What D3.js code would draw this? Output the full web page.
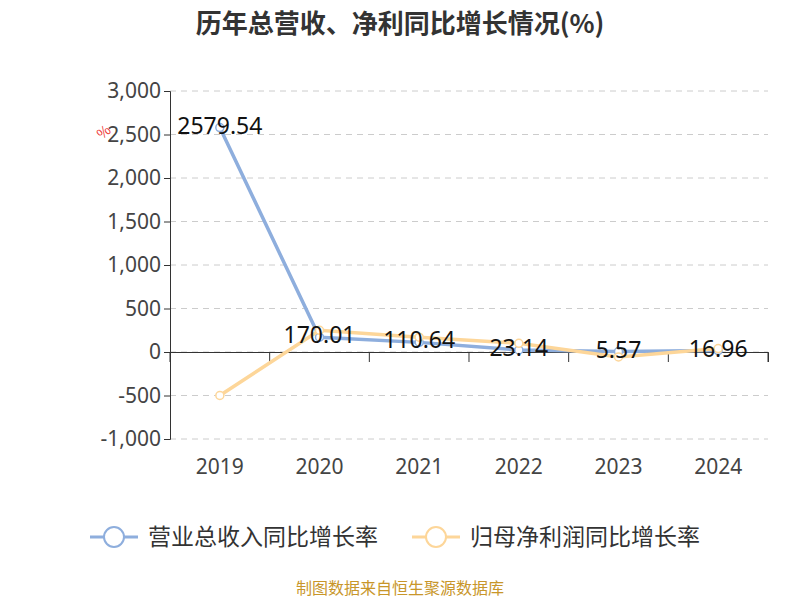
<!DOCTYPE html>
<html><head><meta charset="utf-8">
<script src="https://cdn.jsdelivr.net/npm/d3@7"></script>
<style>body{margin:0;background:#fff;font-family:"Noto Sans CJK SC","Noto Sans",sans-serif;}</style>
</head><body><div id="chart"></div>
<script>
var years = ["2019", "2020", "2021", "2022", "2023", "2024"];
var revenueGrowth = [2579.54, 170.01, 110.64, 23.14, 5.57, 16.96];
var profitGrowth = [-500, 250, 170, 100, -57, 40];
var yTicks = [-1000, -500, 0, 500, 1000, 1500, 2000, 2500, 3000];
var seriesNames = ["营业总收入同比增长率", "归母净利润同比增长率"];
var colors = ["#8eaedd", "#fdd699"];

var width = 800, height = 600;
var margin = { top: 91, right: 32, bottom: 161, left: 170 };

var svg = d3.select("#chart").append("svg")
    .attr("width", width).attr("height", height);

svg.append("text").attr("x", 400).attr("y", 33).attr("text-anchor", "middle")
    .attr("font-size", 26).attr("font-weight", "bold").attr("fill", "#333")
    .text("历年总营收、净利同比增长情况(%)");

var x = d3.scaleBand().domain(years).range([margin.left, width - margin.right]);
var y = d3.scaleLinear().domain([-1000, 3000]).range([height - margin.bottom, margin.top]);

// grid
svg.append("g").selectAll("line").data(yTicks).join("line")
    .attr("x1", margin.left).attr("x2", width - margin.right)
    .attr("y1", d => y(d)).attr("y2", d => y(d))
    .attr("stroke", "#ccc").attr("stroke-dasharray", "6,5");

// y axis
var yAxis = svg.append("g").attr("transform", "translate(" + margin.left + ",0)")
    .call(d3.axisLeft(y).tickValues(yTicks).tickSize(6).tickFormat(d => d3.format(",")(d).replace("−", "-")));
yAxis.select(".domain").attr("stroke", "#333");
yAxis.selectAll("line").attr("stroke", "#333");
yAxis.selectAll("text").attr("font-size", 21).attr("fill", "#444")
    .attr("font-family", "'Noto Sans',sans-serif");

// x axis at zero
var xAxis = svg.append("g").attr("transform", "translate(0," + y(0) + ")")
    .call(d3.axisBottom(x).tickSizeOuter(0).tickSize(10).tickFormat(""));
xAxis.select(".domain").attr("stroke", "#333");
xAxis.selectAll("line").attr("stroke", "#333").attr("x1", -x.bandwidth() / 2).attr("x2", -x.bandwidth() / 2);
svg.append("line").attr("x1", width - margin.right).attr("x2", width - margin.right)
    .attr("y1", y(0)).attr("y2", y(0) + 10).attr("stroke", "#333");
svg.append("g").selectAll("text").data(years).join("text")
    .attr("x", d => x(d) + x.bandwidth() / 2).attr("y", 474)
    .attr("text-anchor", "middle").attr("font-size", 21).attr("fill", "#444")
    .attr("font-family", "'Noto Sans',sans-serif").text(d => d);

var cx = d => x(d) + x.bandwidth() / 2;
var line = d3.line().x((d, i) => cx(years[i])).y(d => y(d));

[revenueGrowth, profitGrowth].forEach(function (s, k) {
    svg.append("path").datum(s).attr("d", line).attr("fill", "none")
        .attr("stroke", colors[k]).attr("stroke-width", 3.5);
    svg.append("g").selectAll("circle").data(s).join("circle")
        .attr("cx", (d, i) => cx(years[i])).attr("cy", d => y(d)).attr("r", 4)
        .attr("fill", "#fff").attr("stroke", colors[k]).attr("stroke-width", 1.5);
});

svg.append("g").selectAll("text").data(revenueGrowth).join("text")
    .attr("x", (d, i) => cx(years[i])).attr("y", d => y(d) + 6)
    .attr("text-anchor", "middle").attr("font-size", 23).attr("fill", "#111")
    .attr("font-family", "'Noto Sans',sans-serif").text(d => d.toFixed(2));

svg.append("text").attr("x", 102).attr("y", 140).attr("font-size", 14)
    .attr("fill", "#e33").attr("transform", "rotate(-40,102,140)").text("%");

// legend
var lx = [90, 412];
seriesNames.forEach(function (n, k) {
    var g = svg.append("g").attr("transform", "translate(" + lx[k] + ",537)");
    g.append("line").attr("x1", 0).attr("x2", 48).attr("stroke", colors[k]).attr("stroke-width", 3);
    g.append("circle").attr("cx", 24).attr("r", 10).attr("fill", "#fff")
        .attr("stroke", colors[k]).attr("stroke-width", 2);
    g.append("text").attr("x", 58).attr("y", 8).attr("font-size", 23).attr("fill", "#333").text(n);
});

svg.append("text").attr("x", 400).attr("y", 594).attr("text-anchor", "middle")
    .attr("font-size", 16).attr("fill", "#c8962a").text("制图数据来自恒生聚源数据库");
</script></body></html>
